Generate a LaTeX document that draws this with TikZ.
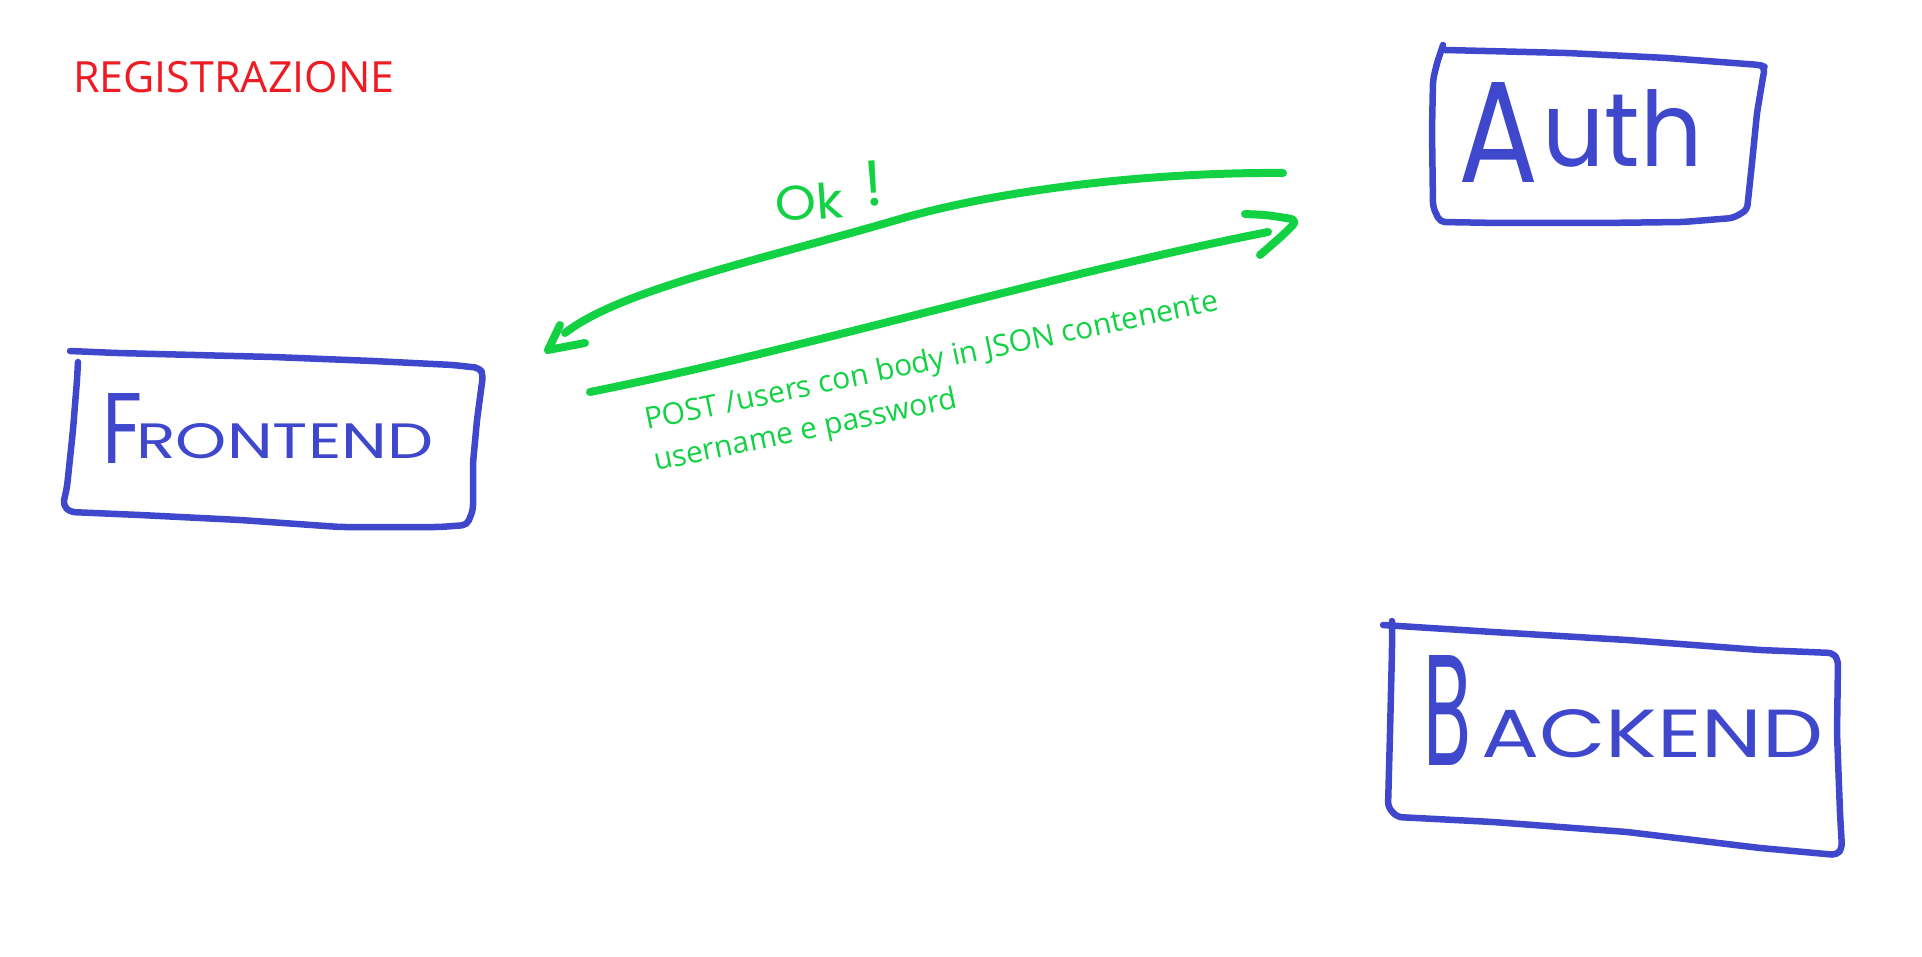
\documentclass[tikz,border=0pt]{standalone}
\usepackage{fontspec}
\usepackage{graphicx}
\setmainfont{Open Sans}
\newfontfamily\handfont{Poppins}
\definecolor{penblue}{RGB}{63,72,204}
\definecolor{pengreen}{RGB}{18,210,68}
\definecolor{titlered}{RGB}{237,28,36}
\begin{document}
\begin{tikzpicture}[x=1pt,y=-1pt,
  bluebox/.style={draw=penblue, line width=6.5pt, line cap=round, line join=round, rounded corners=5pt},
  handtext/.style={text=penblue, inner sep=0pt, font=\handfont, anchor=base west},
  greenpen/.style={draw=pengreen, line width=8pt, line cap=round, line join=round},
  msgtext/.style={text=pengreen, inner sep=0pt, font=\fontsize{30}{36}\selectfont, rotate=11.8, anchor=base west}]
\path[use as bounding box] (0,0) rectangle (1922,957);

% title
\node[text=titlered, inner sep=0pt, anchor=base west, font=\fontsize{43}{52}\selectfont] (title) at (73,93) {REGISTRAZIONE};

% Frontend
\draw[bluebox] (70,351) -- (117,353) -- (273,357) -- (373,361) -- (453,365) -- (480,368) -- (483,375) -- (477,420) -- (473,463) -- (473,510) -- (467,525) -- (440,527) -- (340,527) -- (240,520) -- (140,515) -- (70,512) -- (63,505) -- (67,487) -- (73,430) -- (77,380) -- (78,362);
\node[handtext] (frontend) at (102,463) {\resizebox{40pt}{70pt}{F}\hspace{-6pt}\raisebox{5pt}{\resizebox{297pt}{35pt}{RONTEND}}};

% Auth
\draw[bluebox] (1443,45) -- (1437,63) -- (1433,80) -- (1432,130) -- (1433,207) -- (1440,222) -- (1500,223) -- (1600,223) -- (1683,222) -- (1733,218) -- (1747,210) -- (1752,163) -- (1757,113) -- (1763,77) -- (1765,67) -- (1760,65) -- (1667,58) -- (1567,53) -- (1445,50);
\node[handtext] (auth) at (1458,183) {\resizebox{80pt}{100pt}{A}\hspace{4pt}\raisebox{16pt}{\resizebox{160pt}{77pt}{uth}}};

% Backend
\draw[bluebox] (1383,625) -- (1493,632) -- (1627,640) -- (1760,650) -- (1833,653) -- (1838,660) -- (1837,733) -- (1840,813) -- (1842,848) -- (1837,855) -- (1760,848) -- (1627,832) -- (1493,822) -- (1397,817) -- (1388,807) -- (1390,733) -- (1392,650) -- (1392,621);
\node[handtext] (backend) at (1423,765) {\resizebox{48pt}{110pt}{B}\hspace{10pt}\raisebox{8pt}{\resizebox{342pt}{48pt}{ACKEND}}};

% reply arrow (Ok!)
\coordinate (okR) at (1283,173);
\coordinate (okM) at (900,219);
\coordinate (okL) at (565,333);
\coordinate (okTip) at (548,350);
\draw[greenpen] (okR) .. controls (1150,172) and (1000,190) .. (okM) .. controls (760,260) and (620,290) .. (okL);
\draw[greenpen] (560,325) -- (okTip) -- (585,343);
\node[text=pengreen, font=\handfont, inner sep=0pt, anchor=base west, rotate=4] (ok) at (776,222) {\resizebox{68pt}{36pt}{Ok}\hspace{22pt}\raisebox{9pt}{\resizebox{!}{45pt}{!}}};

% request arrow (POST)
\coordinate (postL) at (590,392);
\coordinate (postR) at (1268,232);
\coordinate (postTip) at (1298,220);
\draw[greenpen] (postL) .. controls (800,350) and (1050,275) .. (postR);
\draw[greenpen, rounded corners=8pt] (1245,214) -- (1267,215) -- (postTip) -- (1283,235) -- (1260,255);
\node[msgtext] (post1) at (647,430) {POST /users con body in JSON contenente};
\node[msgtext] (post2) at (656,471) {username e password};
\end{tikzpicture}
\end{document}
